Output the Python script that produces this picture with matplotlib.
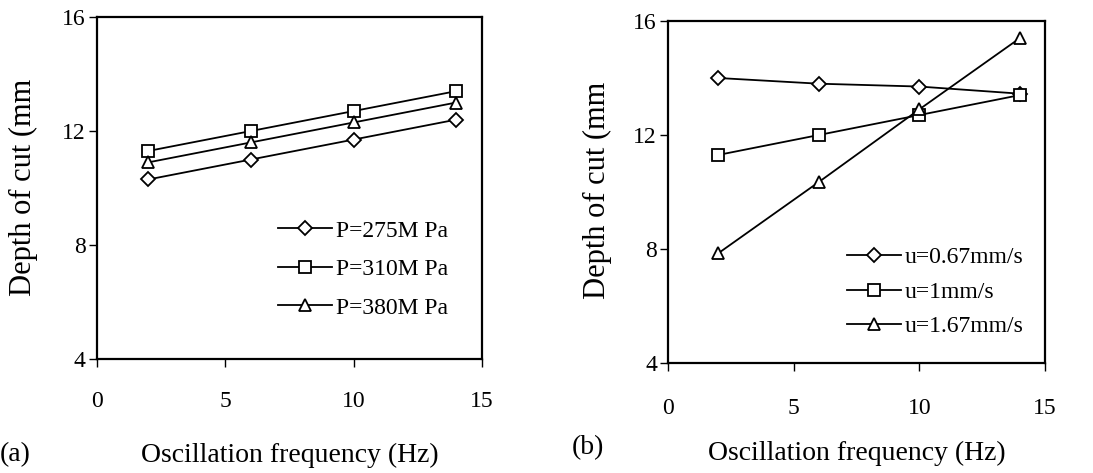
import numpy as np
import matplotlib
matplotlib.use('Agg')
import matplotlib.pyplot as plt

plt.rcParams['font.family'] = 'Liberation Serif'

freq = [2, 6, 10, 14]

# (a) pressure series
p_labels = ['P=275M Pa', 'P=310M Pa', 'P=380M Pa']
p275 = [10.3, 11.0, 11.7, 12.4]
p310 = [11.3, 12.0, 12.7, 13.4]
p380 = [10.9, 11.6, 12.3, 13.0]

# (b) feed rate series
u_labels = ['u=0.67mm/s', 'u=1mm/s', 'u=1.67mm/s']
u067 = [14.0, 13.8, 13.7, 13.45]
u1 = [11.3, 12.0, 12.7, 13.4]
u167 = [7.85, 10.35, 12.9, 15.4]

markers = ['D', 's', '^']
msizes = [7, 8, 8.5]

fig = plt.figure(figsize=(10.93, 4.73), dpi=100)
ax1 = fig.add_axes([0.0887, 0.241, 0.3522, 0.723])
ax2 = fig.add_axes([0.6112, 0.2326, 0.3449, 0.723])


def style(ax, xpad):
    ax.set_xlim(0, 15)
    ax.set_ylim(4, 16)
    ax.set_xticks([0, 5, 10, 15])
    ax.set_yticks([4, 8, 12, 16])
    for s in ax.spines.values():
        s.set_linewidth(1.6)
    ax.tick_params(axis='both', direction='out', length=6, width=1,
                   labelsize=17)
    ax.tick_params(axis='x', pad=xpad)
    ax.tick_params(axis='y', pad=2)


for ser, lab, m, ms in zip([p275, p310, p380], p_labels, markers, msizes):
    ax1.plot(freq, ser, color='black', lw=1.3, marker=m, ms=ms,
             mfc='white', mec='black', mew=1.3, label=lab)
for ser, lab, m, ms in zip([u067, u1, u167], u_labels, markers, msizes):
    ax2.plot(freq, ser, color='black', lw=1.3, marker=m, ms=ms,
             mfc='white', mec='black', mew=1.3, label=lab)

style(ax1, 17)
style(ax2, 19)

ax1.legend(loc='center left', bbox_to_anchor=(0.47, 0.262), frameon=False,
           fontsize=17, handlelength=2.3, handletextpad=0.15,
           labelspacing=0.72, borderpad=0, borderaxespad=0)
ax2.legend(loc='center left', bbox_to_anchor=(0.475, 0.207), frameon=False,
           fontsize=17, handlelength=2.3, handletextpad=0.15,
           labelspacing=0.55, borderpad=0, borderaxespad=0)

fig.text(23 / 1093, 1 - 187 / 473, 'Depth of cut (mm', rotation=90,
         ha='center', va='center', fontsize=22)
fig.text(597 / 1093, 1 - 190 / 473, 'Depth of cut (mm', rotation=90,
         ha='center', va='center', fontsize=22)

fig.text(290 / 1093, 1 - 455 / 473, 'Oscillation frequency (Hz)',
         ha='center', va='center', fontsize=20)
fig.text(857 / 1093, 1 - 453 / 473, 'Oscillation frequency (Hz)',
         ha='center', va='center', fontsize=20)
fig.text(0, 1 - 455 / 473, '(a)', ha='left', va='center', fontsize=20)
fig.text(572 / 1093, 1 - 448 / 473, '(b)', ha='left', va='center', fontsize=20)

fig.savefig('out.png', dpi=100)
